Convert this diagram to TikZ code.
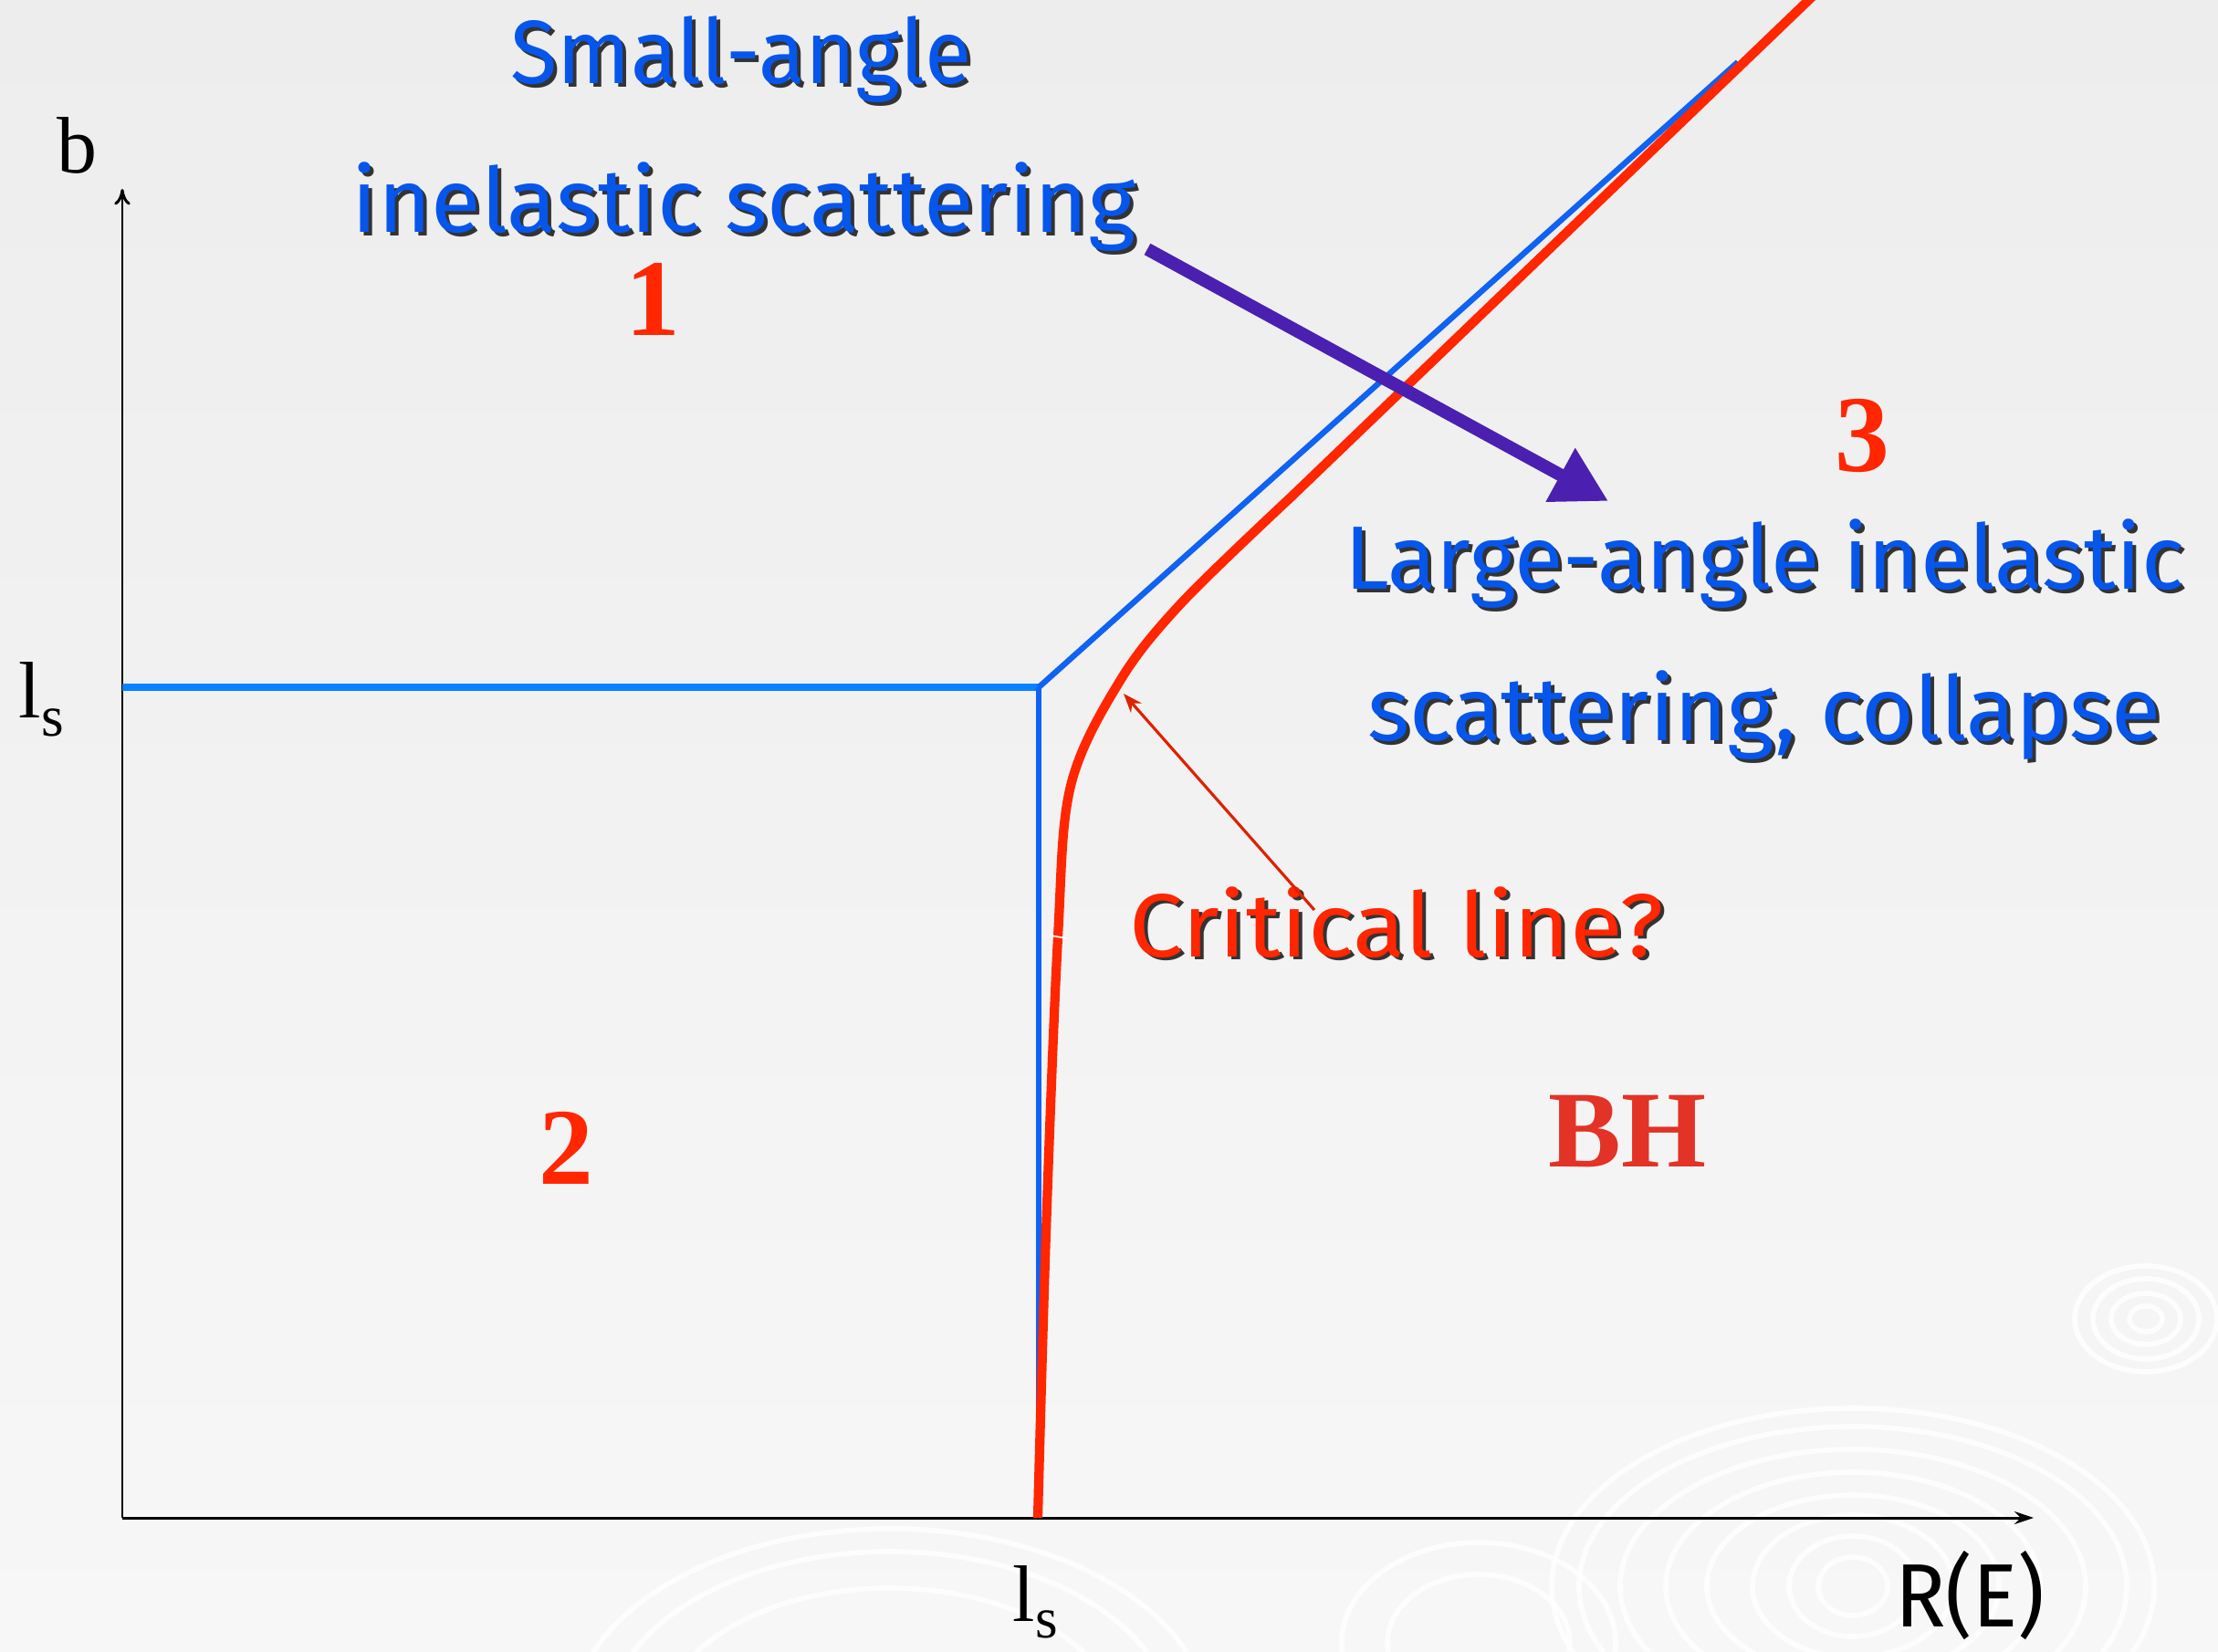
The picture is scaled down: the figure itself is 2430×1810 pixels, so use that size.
\documentclass[tikz,border=0pt]{standalone}
\usepackage{fontspec}
\setmainfont{Liberation Serif}
\newfontfamily\comic{Fira Sans}
\usepackage{graphicx}
\usetikzlibrary{arrows.meta}
\newlength\pu
\setlength\pu{0.01cm}
\definecolor{bgtop}{HTML}{EDEDED}
\definecolor{bgbot}{HTML}{F7F7F7}
\definecolor{txtblue}{HTML}{0656EC}
\definecolor{lineblue}{HTML}{0F62F2}
\definecolor{lightblue}{HTML}{0A82FF}
\definecolor{cred}{HTML}{FF2600}
\definecolor{bhred}{HTML}{E33226}
\definecolor{apurple}{HTML}{4B20B0}
\definecolor{thinred}{HTML}{DD2200}
\newcommand\shtext[6]{%
 \node[ctxt,text=black!80,anchor=base] (#1s) at (#2+4,#3+4) {\resizebox{#5\pu}{\height}{#6}};
 \node[ctxt,text=#4,anchor=base] (#1) at (#2,#3) {\resizebox{#5\pu}{\height}{#6}};}
\begin{document}
\begin{tikzpicture}[x=0.01cm,y=-0.01cm,
 ctxt/.style={inner sep=0pt, font=\comic\fontsize{28}{30}\selectfont},
 serif/.style={inner sep=0pt, font=\fontsize{25}{28}\selectfont},
 bignum/.style={inner sep=0pt, font=\fontsize{34}{36}\selectfont\bfseries, text=cred},
 axisline/.style={black, line width=0.85pt},
 ripple/.style={white, line width=1.6pt, opacity=0.85},
 blueline/.style={lineblue, line width=1.8pt},
 redcurve/.style={cred, line width=2.9pt},
 bigarrow/.style={apurple, line width=4pt, -{Triangle[length=17pt,width=18pt]}},
 thinarrow/.style={thinred, line width=0.9pt, -{Stealth[length=6pt,width=4.5pt]}}]
\useasboundingbox (0,0) rectangle (2430,1810);
\shade[top color=bgtop, bottom color=bgbot] (0,0) rectangle (2430,1810);
\begin{scope}
\clip (0,0) rectangle (2430,1810);
% ripples
\foreach \rx/\ry in {78/58,58/44,38/28,18/14}
  \draw[ripple] (2351,1445) ellipse ({\rx} and {\ry});
\foreach \rx/\ry in {330/195,300/175,255/150,205/125,160/100,110/78,70/55,38/32}
  \draw[ripple] (2030,1738) ellipse ({\rx} and {\ry});
\foreach \rx/\ry in {350/215,310/190,250/150}
  \draw[ripple] (975,1890) ellipse ({\rx} and {\ry});
\foreach \rx/\ry in {150/110,100/75}
  \draw[ripple] (1620,1800) ellipse ({\rx} and {\ry});
\end{scope}
% axes
\coordinate (O) at (134,1663);
\coordinate (ytip) at (134,207);
\coordinate (xtip) at (2228,1663);
\draw[axisline, -{To[length=5pt,width=5pt]}] (O) -- (ytip);
\draw[axisline, -{Stealth[length=6pt,width=4pt]}] (O) -- (xtip);
% blue boundary
\coordinate (bl) at (134,753);
\coordinate (corner) at (1138,753);
\coordinate (cbot) at (1138,1663);
\coordinate (btop) at (1904,68);
\draw[lightblue, line width=2pt] (bl) -- (corner);
\draw[blueline] (corner) -- (cbot);
\draw[blueline] (corner) -- (btop);
% red critical curve
\coordinate (rtop) at (1990,-8);
\draw[redcurve] plot[smooth, tension=0.55] coordinates {(1137,1663) (1146,1350) (1159,1027) (1173,861) (1227,746) (1295,660) (1414,545)} -- (rtop);
\draw[white, line width=0.5pt] (1151,1025) -- (1168,1028);
% labels
\node[serif, anchor=base] (b) at (84,190) {b};
\node[serif, anchor=base west] (lsy) at (20,787) {l\raisebox{-20\pu}{\fontsize{18}{18}\selectfont s}};
\node[serif, anchor=base west] (lsx) at (1109,1776) {l\raisebox{-18\pu}{\fontsize{18}{18}\selectfont s}};
\node[ctxt, anchor=base] (RE) at (2158,1782) {\resizebox{164\pu}{\height}{R(E)}};
\node[bignum, anchor=base] (n1) at (715,368) {1};
\node[bignum, anchor=base] (n2) at (620,1297) {2};
\node[bignum, anchor=base] (n3) at (2040,517) {3};
\node[bignum, text=bhred, anchor=base] (BH) at (1783,1278) {BH};
\shtext{small}{812}{92}{txtblue}{505}{Small-angle}
\shtext{inel}{815}{255}{txtblue}{858}{inelastic scattering}
\shtext{large}{1933}{646}{txtblue}{920}{Large-angle inelastic}
\shtext{scat}{1933}{812}{txtblue}{869}{scattering, collapse}
\shtext{crit}{1530}{1048}{cred}{585}{Critical line?}
% arrows
\coordinate (pa) at (1257,273);
\coordinate (pb) at (1762,549);
\draw[bigarrow] (pa) -- (pb);
\coordinate (ra) at (1440,997);
\coordinate (rb) at (1231,760);
\draw[thinarrow] (ra) -- (rb);
\end{tikzpicture}
\end{document}
